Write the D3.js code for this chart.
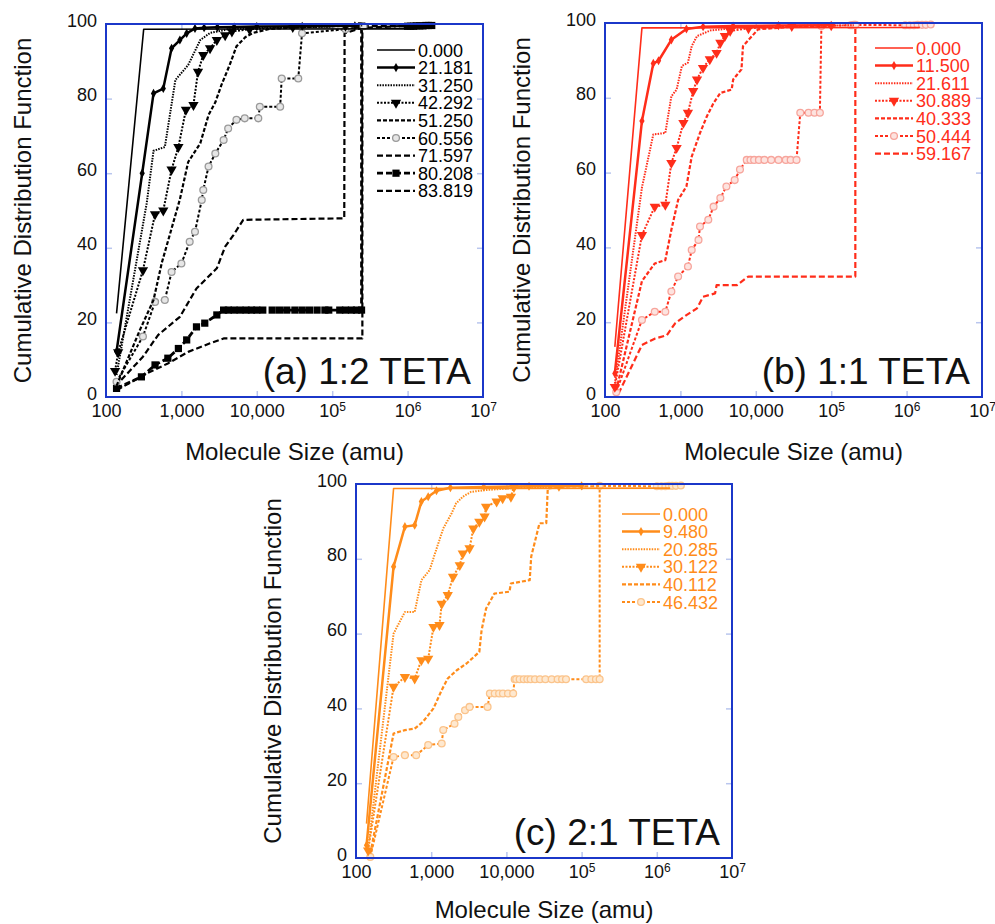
<!DOCTYPE html>
<html>
<head>
<meta charset="utf-8">
<script src="https://cdn.jsdelivr.net/npm/d3@7"></script>
<style>
body { margin: 0; background: #fff; }
svg text { font-family: "Liberation Sans", Arial, Helvetica, sans-serif; }
</style>
</head>
<body>
<svg id="chart" width="995" height="924"></svg>
<script>
// axis ticks
var xTicks = [100, 1000, 10000, 1e5, 1e6, 1e7];
var xTickBase = ["100", "1,000", "10,000", "10", "10", "10"];
var xTickSup = ["", "", "", "5", "6", "7"];
var yTicks = [0, 20, 40, 60, 80, 100];

// (a) 1:2 TETA  -- [molecule size (amu), CDF %]
var namesA = ["0.000", "21.181", "31.250", "42.292", "51.250", "60.556", "71.597", "80.208", "83.819"];
var a0 = [[138,22.4],[316,98.6],[1000000,98.7]];
var a1 = [[138,12.2],[302,60],[427,81.4],[575,82.7],[741,93.5],[955,95.7],[1175,97.5],[1514,98.8],[2000,99],[3000,99.1],[5000,99.2],[10000,99.3],[40000,99.4],[200000,99.5]];
var a2 = [[138,5.9],[347,52],[427,66],[603,67],[832,85],[1230,89],[1778,95.7],[2399,97.6],[4000,98.5],[10000,99],[100000,99.3]];
var a3 = [[132,7],[145,12],[309,34],[447,49],[575,50],[741,61],[912,67],[1148,77],[1445,78.3],[1660,87.2],[1950,91.7],[2399,93.5],[2951,95.7],[3802,97],[4677,98],[8000,98.6],[30000,99.2],[150000,99.5]];
var a4 = [[138,3],[282,18],[427,26],[550,36],[955,53],[1230,63],[1778,68],[2291,75.6],[2818,79],[3388,83.6],[4365,89],[5370,94],[7079,96.5],[8913,97.6],[15000,98.7],[60000,99.3],[250000,99.6]];
var a5 = [[138,4.1],[309,16.2],[447,25.5],[603,26],[741,33.5],[1000,35.8],[1288,41.6],[1514,44.3],[1862,52.8],[1950,55.5],[2291,61.8],[2818,65.3],[3631,68.9],[4169,72],[5370,74.3],[6918,74.7],[10470,74.7],[10965,77.8],[20417,77.8],[21380,85.4],[35481,85.4],[39811,97.5],[150000,98.6],[260000,99.4]];
var a6 = [[132,2.8],[309,10.8],[490,16.6],[955,21.5],[1585,29.1],[2951,34.5],[3802,40.3],[4898,43.4],[6607,47.5],[144544,47.9],[146000,97.5],[250000,99],[1000000,99.5]];
var a7 = [[138,2.3],[295,5.4],[447,8.6],[661,10.4],[912,13],[1175,15.3],[1585,18.8],[2042,19.8],[2951,22],[3631,23.3],[4200,23.3],[5000,23.3],[6000,23.3],[7200,23.3],[8500,23.3],[10000,23.3],[12000,23.3],[16000,23.3],[20000,23.3],[25000,23.3],[32000,23.3],[40000,23.3],[50000,23.3],[63000,23.3],[80000,23.3],[90000,23.3],[126000,23.3],[150000,23.3],[180000,23.3],[210000,23.3],[245000,23.3],[245000,99.5],[1000000,99.4],[1100000,99.4],[1200000,99.4],[1300000,99.5],[1450000,99.5],[1600000,99.5],[1750000,99.6],[1900000,99.6],[2090000,99.6]];
var a8 = [[138,1.8],[347,6.3],[661,9],[1230,12.1],[2399,14.4],[3631,15.7],[251189,15.7],[251189,99.6]];

// (b) 1:1 TETA
var namesB = ["0.000", "11.500", "21.611", "30.889", "40.333", "50.444", "59.167"];
var b0 = [[135,13.4],[309,98.7],[1500000,98.8]];
var b1 = [[135,6.3],[309,73.8],[437,89.2],[513,89.9],[759,95.5],[1202,98.4],[2000,99],[5000,99.2],[20000,99.3],[100000,99.4]];
var b2 = [[135,3.6],[309,56],[437,70.2],[631,70.6],[759,80.4],[891,82.2],[1047,88.5],[1259,89.4],[1413,93.8],[1660,96.5],[2500,98],[6000,98.8],[30000,99.2],[200000,99.4]];
var b3 = [[135,2.7],[309,43.3],[457,50.9],[631,51.4],[759,62.6],[891,66.6],[1096,73.3],[1259,76],[1479,81.8],[1660,84.9],[1995,88],[2455,90.3],[3020,92],[3388,94.7],[3890,96.5],[4571,97.9],[8000,98.6],[30000,99.2],[100000,99.4]];
var b4 = [[141,1.8],[309,31],[457,35.7],[631,36.6],[759,44.7],[933,52.7],[1202,56.3],[1413,64.3],[1820,70.6],[2239,75],[2754,78.6],[3388,81.3],[4786,82.2],[5012,84.9],[6457,87.6],[6761,93.8],[8913,96.5],[10715,98.3],[30000,99],[100000,99.3]];
var b5 = [[141,1.3],[309,20.6],[457,22.8],[631,22.8],[759,28.2],[933,32.2],[1259,34.9],[1413,39.3],[1738,42],[1820,45.6],[2344,47.4],[2754,50.9],[3388,53.2],[4074,56.3],[5248,58],[6166,60.8],[7586,63.4],[8500,63.4],[9500,63.4],[11000,63.4],[13000,63.4],[16000,63.4],[20000,63.4],[25000,63.4],[29000,63.4],[34674,63.4],[38905,76],[50000,76],[60000,76],[70795,76],[74131,99.2],[180000,99.4],[190000,99.4],[200000,99.5],[210000,99.5],[955000,99.4],[1100000,99.4],[1250000,99.4],[1400000,99.5],[1600000,99.5],[1800000,99.5],[2090000,99.6]];
var b6 = [[151,0.9],[309,13.9],[457,15.6],[661,16.5],[851,19.7],[1202,21.9],[1660,23.7],[1995,26.8],[2884,27.7],[3020,29.9],[5623,29.9],[7943,32.2],[208930,32.2],[208930,99.6]];

// (c) 2:1 TETA
var namesC = ["0.000", "9.480", "20.285", "30.122", "40.112", "46.432"];
var c0 = [[138,9.2],[316,98.8],[1500000,98.9]];
var c1 = [[138,3.4],[316,77.9],[447,88.6],[603,89],[741,95.3],[912,96.6],[1175,98.2],[1800,99],[5000,99.2],[20000,99.4],[100000,99.5]];
var c2 = [[145,2.5],[316,60],[447,65.8],[603,65.8],[741,74.3],[955,77],[1122,81.4],[1445,88.1],[1862,92.1],[2138,94.8],[2630,96.6],[3388,97.9],[5370,98.4],[15000,99],[60000,99.4]];
var c3 = [[145,2],[316,45.8],[447,48.4],[603,48],[741,52.9],[912,53.3],[1072,61.8],[1288,62.3],[1380,68],[1660,70.3],[1950,75.2],[2399,78.3],[2630,81.4],[3236,82.8],[3631,88.1],[4365,89.9],[5129,91.3],[5370,93.9],[7413,95.3],[8913,96.2],[11482,96.6],[12600,99.2],[50000,99.5]];
var c4 = [[155,1.2],[316,33.3],[447,34.2],[603,34.6],[776,36.4],[1072,40],[1380,44.9],[1660,48],[2188,50.2],[2951,52],[4365,55.1],[4677,60.9],[5370,66.7],[6918,70.7],[10965,71.2],[11482,73.4],[20417,74.3],[21380,80.6],[27542,89.5],[33884,89.5],[35481,98.8],[60000,99.3],[115000,99.4],[140000,99.4],[170000,99.5]];
var c5 = [[155,0.3],[316,27],[447,27.5],[631,27.5],[912,30.2],[1380,30.6],[1445,34.2],[2042,35.9],[2291,37.7],[2818,39.5],[3236,40.4],[5623,40.4],[6026,44],[7000,44],[8000,44],[9000,44],[10500,44],[12303,44],[12882,47.8],[13500,47.8],[15000,47.8],[17000,47.8],[19000,47.8],[21000,47.8],[24000,47.8],[28000,47.8],[33000,47.8],[40000,47.8],[48000,47.8],[55000,47.8],[62000,47.8],[115000,47.8],[135000,47.8],[155000,47.8],[173780,47.8],[173780,99.5],[1000000,99.4],[1150000,99.4],[1300000,99.4],[1450000,99.5],[1600000,99.5],[1800000,99.5],[2090000,99.6]];

var typesA = ["solid", "solidMark", "fineDot", "dotTri", "dash", "dashCircle", "longDash", "dashSquare", "longDash"];
var typesB = ["solid", "solidMark", "fineDot", "dotTri", "dash", "dashCircle", "longDash"];
var typesC = ["solid", "solidMark", "fineDot", "dotTri", "dash", "dashCircle"];

var styles = {
  solid:      {w: 1.6, dash: null},
  solidMark:  {w: 2.5, dash: null, mark: "diamond"},
  fineDot:    {w: 2, dash: "1.5,1.2"},
  dotTri:     {w: 2, dash: "2,1.5", mark: "tri"},
  dash:       {w: 2.2, dash: "4,2"},
  dashCircle: {w: 2, dash: "3,2", mark: "circle"},
  longDash:   {w: 2.2, dash: "6,3"},
  dashSquare: {w: 2.8, dash: "6,3", mark: "square"}
};

var panels = [
  {left: 106, top: 24, w: 377, h: 373, color: "#000", ring: "#9a9a9a", ringFill: "#e6e6e6",
   names: namesA, data: [a0, a1, a2, a3, a4, a5, a6, a7, a8], types: typesA,
   label: "(a) 1:2 TETA", legX: 377, legY: 50, titleDy: 63},
  {left: 605, top: 23, w: 377, h: 374, color: "#ff2d1a", ring: "#f7a59c", ringFill: "#fde3df",
   names: namesB, data: [b0, b1, b2, b3, b4, b5, b6], types: typesB,
   label: "(b) 1:1 TETA", legX: 875, legY: 48, titleDy: 63},
  {left: 356, top: 484, w: 376, h: 374, color: "#ff8c1a", ring: "#fbc48c", ringFill: "#fee8cf",
   names: namesC, data: [c0, c1, c2, c3, c4, c5], types: typesC,
   label: "(c) 2:1 TETA", legX: 622, legY: 514, titleDy: 60}
];

var svg = d3.select("#chart");

panels.forEach(drawPanel);

function drawMarker(g, type, px, py, p) {
  if (type == "diamond") {
    g.append("path").attr("d", d3.symbol(d3.symbolDiamond, 24)())
      .attr("transform", "translate(" + px + "," + py + ")")
      .attr("fill", p.color);
  } else if (type == "tri") {
    g.append("path").attr("d", d3.symbol(d3.symbolTriangle, 46)())
      .attr("transform", "translate(" + px + "," + py + ") rotate(180)")
      .attr("fill", p.color);
  } else if (type == "circle") {
    g.append("circle").attr("cx", px).attr("cy", py).attr("r", 3.4)
      .attr("fill", p.ringFill).attr("stroke", p.ring).attr("stroke-width", 1.3);
  } else if (type == "square") {
    g.append("path").attr("d", d3.symbol(d3.symbolSquare, 52)())
      .attr("transform", "translate(" + px + "," + py + ")")
      .attr("fill", p.color);
  }
}

function drawPanel(p) {
  var g = svg.append("g").attr("transform", "translate(" + p.left + "," + p.top + ")");

  var x = d3.scaleLog().domain([100, 1e7]).range([0, p.w]);
  var y = d3.scaleLinear().domain([0, 100]).range([p.h, 0]);

  // small light-blue ticks inside the frame
  var tickColor = "#b9c6ee";
  var inner = [
    {ax: d3.axisLeft(y).tickValues([20, 40, 60, 80]), t: "translate(0,0)"},
    {ax: d3.axisRight(y).tickValues([20, 40, 60, 80]), t: "translate(" + p.w + ",0)"},
    {ax: d3.axisBottom(x).tickValues([1e3, 1e4, 1e5, 1e6]), t: "translate(0," + p.h + ")"},
    {ax: d3.axisTop(x).tickValues([1e3, 1e4, 1e5, 1e6]), t: "translate(0,0)"}
  ];
  inner.forEach(function(d) {
    var a = g.append("g").attr("transform", d.t).call(d.ax.tickSize(-6).tickFormat(""));
    a.select(".domain").remove();
    a.selectAll("line").attr("stroke", tickColor).attr("stroke-width", 1.5);
  });

  var line = d3.line()
    .x(function(d) { return x(d[0]); })
    .y(function(d) { return y(d[1]); });

  // series, last drawn first so the 0.000 line stays on top
  for (var i = p.data.length - 1; i >= 0; i--) {
    var st = styles[p.types[i]];
    g.append("path")
      .attr("d", line(p.data[i]))
      .attr("fill", "none")
      .attr("stroke", p.color)
      .attr("stroke-width", st.w)
      .attr("stroke-dasharray", st.dash)
      .attr("stroke-linejoin", "round");
    if (st.mark) {
      var mg = g.append("g");
      p.data[i].forEach(function(d) {
        drawMarker(mg, st.mark, x(d[0]), y(d[1]), p);
      });
    }
  }

  // frame
  g.append("rect")
    .attr("width", p.w).attr("height", p.h)
    .attr("fill", "none")
    .attr("stroke", "#1b37c9")
    .attr("stroke-width", 2);

  // tick labels
  var yl = g.append("g").call(d3.axisLeft(y).tickValues(yTicks).tickSize(0).tickPadding(9));
  yl.select(".domain").remove();
  yl.selectAll("text").attr("font-size", 18).attr("fill", "#111").attr("dy", "0.12em")
    .style("font-family", "'Liberation Sans', Arial, sans-serif");

  var xl = g.append("g").attr("transform", "translate(0," + p.h + ")")
    .call(d3.axisBottom(x).tickValues(xTicks).tickSize(0).tickPadding(7).tickFormat(""));
  xl.select(".domain").remove();
  xl.selectAll("text").each(function(d, k) {
    var t = d3.select(this);
    t.attr("font-size", 18).attr("fill", "#111")
      .style("font-family", "'Liberation Sans', Arial, sans-serif");
    t.text(xTickBase[k]);
    if (xTickSup[k]) {
      t.append("tspan").attr("dy", "-0.45em").attr("font-size", 12).text(xTickSup[k]);
    }
  });

  // axis titles
  g.append("text")
    .attr("transform", "translate(-75," + (p.h / 2) + ") rotate(-90)")
    .attr("text-anchor", "middle")
    .attr("font-size", 24)
    .attr("fill", "#111")
    .text("Cumulative Distribution Function");

  g.append("text")
    .attr("x", p.w / 2).attr("y", p.h + p.titleDy)
    .attr("text-anchor", "middle")
    .attr("font-size", 24)
    .attr("fill", "#111")
    .text("Molecule Size (amu)");

  // panel label
  g.append("text")
    .attr("x", p.w - 12).attr("y", p.h - 13)
    .attr("text-anchor", "end")
    .attr("font-size", 37)
    .attr("fill", "#111")
    .text(p.label);

  // legend
  var lg = svg.append("g");
  p.names.forEach(function(name, i) {
    var st = styles[p.types[i]];
    var ly = p.legY + i * 17.6;
    lg.append("line")
      .attr("x1", p.legX).attr("x2", p.legX + 38)
      .attr("y1", ly).attr("y2", ly)
      .attr("stroke", p.color)
      .attr("stroke-width", st.w)
      .attr("stroke-dasharray", st.dash);
    if (st.mark) drawMarker(lg, st.mark, p.legX + 19, ly, p);
    lg.append("text")
      .attr("x", p.legX + 41).attr("y", ly + 6.5)
      .attr("font-size", 18)
      .attr("fill", p.color)
      .text(name);
  });
}
</script>
</body>
</html>
